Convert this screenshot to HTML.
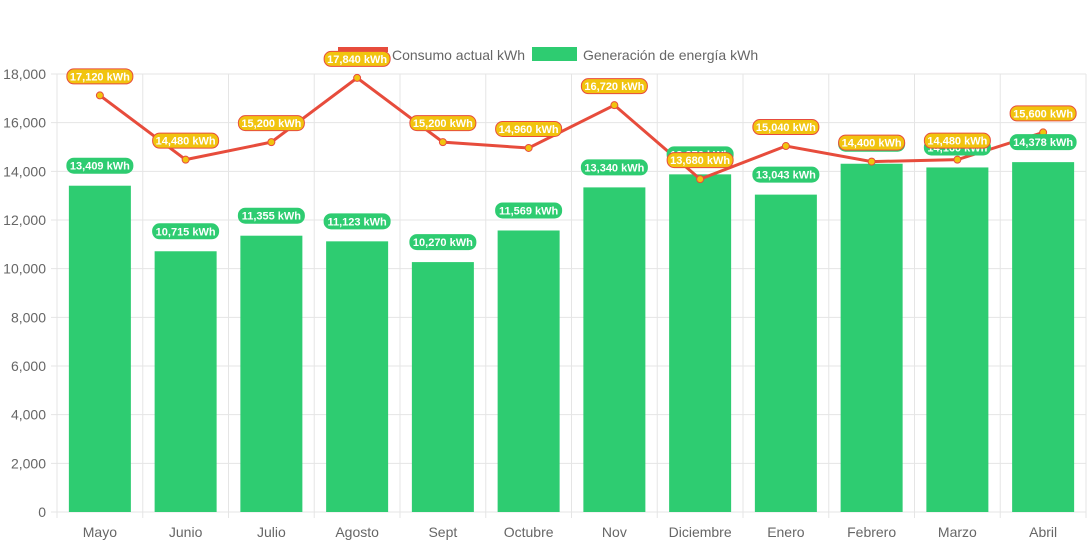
<!DOCTYPE html>
<html><head><meta charset="utf-8"><style>
body{margin:0;background:#fff;font-family:"Liberation Sans",sans-serif}
svg text{font-family:"Liberation Sans",sans-serif}
</style></head><body>
<svg id="chart" width="1092" height="545" xmlns="http://www.w3.org/2000/svg">
<g>
<g><rect x="338" y="47" width="50" height="5" fill="#e74c3c"/><text x="392" y="60" font-size="14" fill="#666">Consumo actual kWh</text></g>
<g><rect x="532" y="47" width="45" height="14" fill="#2ecc71"/><text x="583" y="60" font-size="14" fill="#666">Generación de energía kWh</text></g>
</g>
<g id="grid"></g><g id="bars"></g><g id="line"></g><g id="labels"></g>
</svg>
<script>
const categories=["Mayo","Junio","Julio","Agosto","Sept","Octubre","Nov","Diciembre","Enero","Febrero","Marzo","Abril"];
const generacion=[13409,10715,11355,11123,10270,11569,13340,13876,13043,14312,14160,14378];
const consumo=[17120,14480,15200,17840,15200,14960,16720,13680,15040,14400,14480,15600];
const yTicks=[0,2000,4000,6000,8000,10000,12000,14000,16000,18000];
const NS="http://www.w3.org/2000/svg";
const L=57,R=1086,T=74,B=512,YMAX=18000;
const band=(R-L)/categories.length;
const x=i=>L+band*(i+0.5);
const y=v=>B-(v/YMAX)*(B-T);
function mk(tag,at,parent){const e=document.createElementNS(NS,tag);for(const k in at)e.setAttribute(k,at[k]);parent.appendChild(e);return e;}
const fmt=v=>v.toLocaleString("en-US");
const grid=document.getElementById("grid");
yTicks.forEach(t=>{
 const g=mk("line",{x1:L-6,x2:R,y1:y(t),y2:y(t),stroke:"#e5e5e5"},grid);
 
 
 const tx=mk("text",{x:L-11,y:y(t)+5,"text-anchor":"end","font-size":14,fill:"#666"},grid);
 tx.textContent=fmt(t);
 
 
});
for(let i=0;i<=categories.length;i++){
 const l=mk("line",{x1:L+band*i,x2:L+band*i,y1:T,y2:B+6,stroke:"#e5e5e5"},grid);
 
 
}
categories.forEach((c,i)=>{
 const tx=mk("text",{x:x(i),y:537,"text-anchor":"middle","font-size":14,fill:"#666"},grid);
 tx.textContent=c;
 
 
});
const bars=document.getElementById("bars"),labels=document.getElementById("labels"),line=document.getElementById("line");
function pill(cx,cy,text,bg,border,name){
 const w=text.length*6+6;
 const g=mk("g",{},labels);
 
 
 mk("rect",{x:cx-w/2,y:cy-7.5,width:w,height:15,rx:7,fill:bg,stroke:border,"stroke-width":1},g);
 const t=mk("text",{x:cx,y:cy+4,"text-anchor":"middle","font-size":11,"font-weight":"bold",fill:"#fff"},g);
 t.textContent=text;
}
generacion.forEach((v,i)=>{
 const r=mk("rect",{x:x(i)-31,y:y(v),width:62,height:B-y(v),fill:"#2ecc71"},bars);
 
 
 pill(x(i),y(v)-20,fmt(v)+" kWh","#2ecc71","#2ecc71","bar-value-label");
});
const pts=consumo.map((v,i)=>x(i)+","+y(v)).join(" ");
const pl=mk("polyline",{points:pts,fill:"none",stroke:"#e74c3c","stroke-width":3},line);


consumo.forEach((v,i)=>{
 const c=mk("circle",{cx:x(i),cy:y(v),r:3.5,fill:"#f1c40f",stroke:"#e74c3c","stroke-width":1},line);
 
 
 pill(x(i),y(v)-19,fmt(v)+" kWh","#f1c40f","#e74c3c","line-value-label");
});
</script>
</body></html>
